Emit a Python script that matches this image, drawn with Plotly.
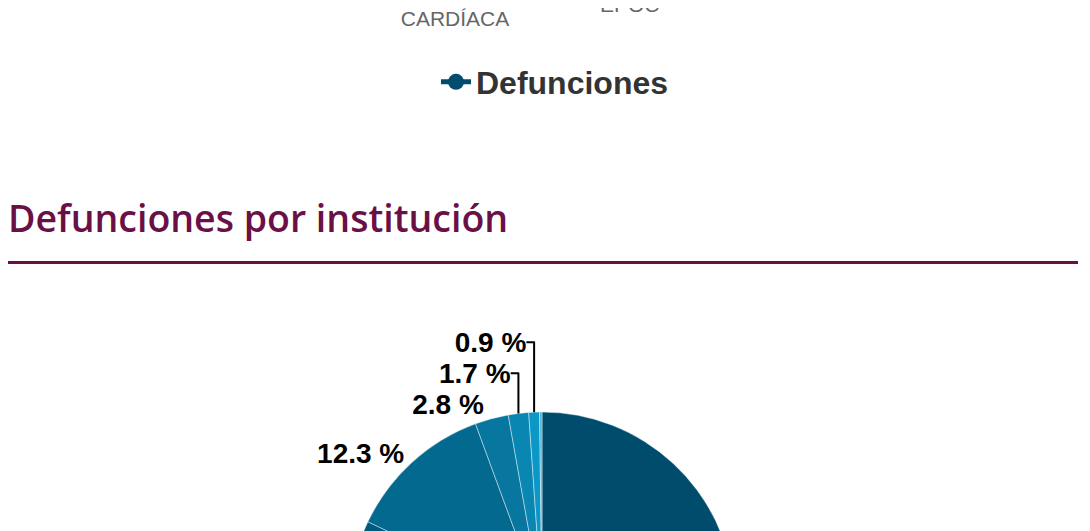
import plotly.graph_objects as go

# Alto total de la figura (la ventana solo muestra los primeros 531 px)
W, H = 1090, 800
OFF = 8  # margen del body de la página

# Pie "Defunciones por institución" (valores en %)
instituciones = ["IMSS", "SSA", "ISSSTE", "PEMEX", "SEDENA", "SEMAR", "Otras"]
porcentajes = [47.5, 34.6, 12.3, 2.8, 1.7, 0.9, 0.2]
colores = ["#004c6d", "#005a7f", "#04698f", "#0777a0", "#0986b2", "#0b98c6", "#3fb6e0"]
etiquetas = [f"{v:.1f} %" if v >= 0.5 else "" for v in porcentajes]

# Gráfica superior (solo se ven las etiquetas del eje y la leyenda)
causas = ["INSUFICIENCIA<br>CARDÍACA", "EPOC"]
defunciones = [None, None]

GUINDA = "#6a1046"


def py(p):
    """Pixeles de la página (desde arriba) a coordenadas paper."""
    return 1 - (p - OFF) / H


def px_(p):
    return (p - OFF) / W


fig = go.Figure()

fig.add_trace(go.Scatter(
    x=causas, y=defunciones, name="Defunciones",
    mode="lines+markers",
    line=dict(color="#004c6d", width=5),
    marker=dict(color="#004c6d", size=20),
    xaxis="x", yaxis="y", showlegend=True,
))

fig.add_trace(go.Pie(
    labels=instituciones, values=porcentajes,
    text=etiquetas, textinfo="text", textposition="outside",
    sort=False, direction="clockwise", rotation=0,
    marker=dict(colors=colores, line=dict(color="rgba(255,255,255,0.6)", width=0.7)),
    outsidetextfont=dict(family="Arial, Liberation Sans", size=28, color="#000000", weight="bold"),
    domain=dict(x=[px_(349), px_(735)], y=[py(798), py(412)]),
    showlegend=False, hoverinfo="label+percent",
))

# Etiquetas del eje de la gráfica anterior (recortadas por el borde superior)
fig.add_annotation(x=px_(455), y=py(32), xref="paper", yref="paper",
                   text=causas[0], showarrow=False, yanchor="bottom",
                   font=dict(family="Arial, Liberation Sans", size=21, color="#666666"))
fig.add_annotation(x=px_(630), y=py(18), xref="paper", yref="paper",
                   text=causas[1], showarrow=False, yanchor="bottom",
                   font=dict(family="Arial, Liberation Sans", size=21, color="#666666"))

# Título de la sección
fig.add_annotation(x=px_(6), y=py(217), xref="paper", yref="paper",
                   text="Defunciones por institución", showarrow=False,
                   xanchor="left", yanchor="middle",
                   font=dict(family="Open Sans", size=37.5, color=GUINDA, weight=600))
fig.add_shape(type="line", xref="paper", yref="paper",
              x0=px_(8), x1=px_(1078), y0=py(262.5), y1=py(262.5),
              line=dict(color=GUINDA, width=3))

fig.update_layout(
    width=W, height=H,
    margin=dict(l=0, r=0, t=0, b=0),
    paper_bgcolor="white", plot_bgcolor="white",
    xaxis=dict(visible=False, domain=[0, 1]),
    yaxis=dict(visible=False, domain=[0.99, 1]),
    legend=dict(x=px_(555), y=py(82), xanchor="center", yanchor="middle",
                orientation="h", bgcolor="rgba(0,0,0,0)",
                font=dict(family="Arial, Liberation Sans", size=32, color="#333333", weight="bold")),
)

fig.write_html("out.html")
